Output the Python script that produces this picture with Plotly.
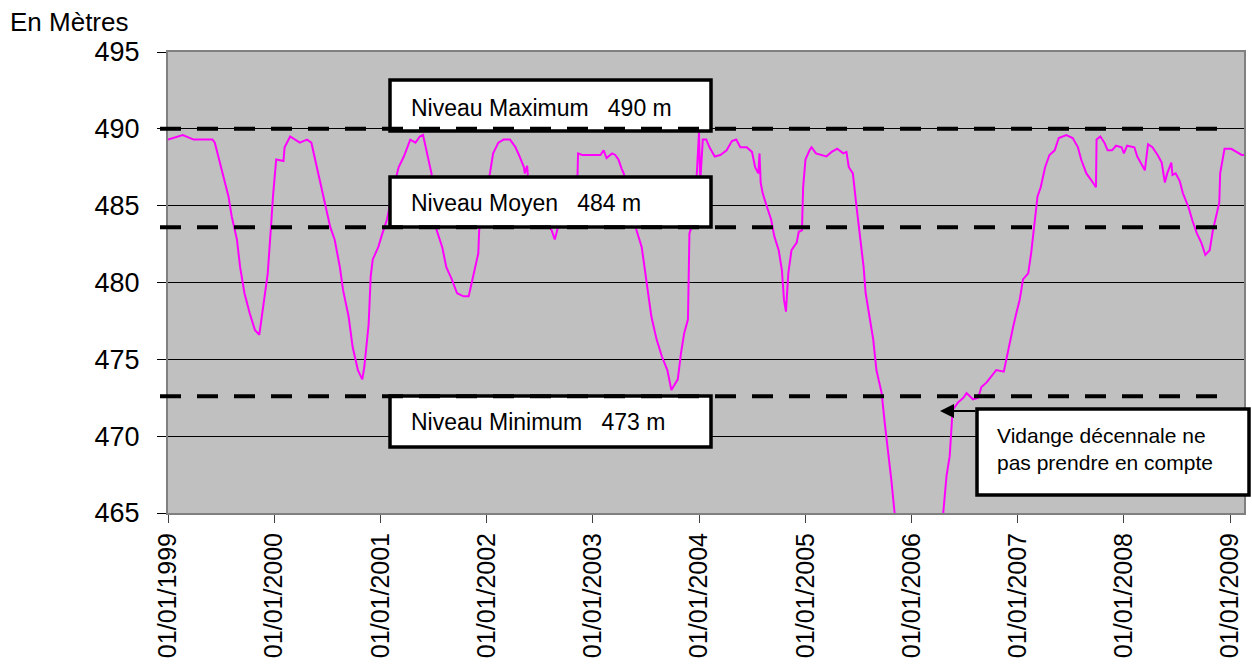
import plotly.graph_objects as go

# ---- data ----
dates = [
    "1999-01-01","1999-02-21","1999-03-30","1999-06-03","1999-06-11","1999-06-29","1999-07-10","1999-07-28",
    "1999-08-08","1999-08-26","1999-09-06","1999-09-21","1999-10-09","1999-10-27","1999-11-11","1999-11-18",
    "1999-11-29","1999-12-10","1999-12-21","1999-12-28",
    "2000-01-08","2000-02-02","2000-02-06","2000-02-25","2000-03-29","2000-04-23","2000-05-08","2000-05-19",
    "2000-06-06","2000-06-24","2000-07-12","2000-07-27","2000-08-14","2000-08-25","2000-09-13","2000-09-27",
    "2000-10-15","2000-10-30","2000-11-06","2000-11-21","2000-11-28","2000-12-05","2000-12-24",
    "2001-01-04","2001-01-23","2001-02-10","2001-03-04","2001-03-22","2001-04-13","2001-05-01","2001-05-16",
    "2001-05-27","2001-06-07","2001-06-25","2001-07-13","2001-08-01","2001-08-15","2001-09-03","2001-09-21",
    "2001-10-13","2001-10-31","2001-11-11","2001-11-22","2001-12-03","2001-12-06","2001-12-25",
    "2002-01-12","2002-01-23","2002-02-10","2002-02-28","2002-03-22","2002-04-10","2002-04-24","2002-05-09",
    "2002-05-12","2002-05-20","2002-05-23","2002-07-02","2002-08-12","2002-08-23","2002-08-30","2002-09-21",
    "2002-10-20","2002-11-09","2002-11-11","2002-11-25",
    "2003-01-27","2003-02-07","2003-02-17","2003-03-08","2003-03-19","2003-03-30","2003-04-10","2003-04-17",
    "2003-05-09","2003-05-31","2003-06-18","2003-06-29","2003-07-10","2003-07-21","2003-08-08","2003-08-26",
    "2003-09-14","2003-09-28","2003-10-20","2003-10-31","2003-11-11","2003-11-24","2003-11-26","2003-11-29",
    "2003-12-06","2003-12-20",
    "2004-01-01","2004-01-05","2004-01-14","2004-01-26","2004-02-06","2004-02-24","2004-03-14","2004-04-05",
    "2004-04-23","2004-05-08","2004-05-22","2004-06-13","2004-07-01","2004-07-12","2004-07-23","2004-07-27",
    "2004-07-31","2004-08-07","2004-08-22","2004-09-05","2004-09-16","2004-10-01","2004-10-12","2004-10-19",
    "2004-10-26","2004-11-03","2004-11-14","2004-12-02","2004-12-09","2004-12-20","2004-12-24",
    "2005-01-01","2005-01-15","2005-01-22","2005-02-06","2005-03-14","2005-04-01","2005-04-20","2005-05-11",
    "2005-05-22","2005-05-30","2005-06-13","2005-06-24","2005-07-09","2005-07-20","2005-07-27","2005-08-11",
    "2005-08-22","2005-09-02","2005-09-20","2005-10-01","2005-10-12","2005-10-23","2005-11-03","2005-11-25",
    "2006-01-08","2006-02-24","2006-04-01","2006-04-20","2006-05-01","2006-05-12","2006-05-19","2006-05-22",
    "2006-06-10","2006-06-28","2006-07-09","2006-07-31","2006-08-18","2006-08-29","2006-09-16","2006-10-01",
    "2006-10-19","2006-11-14","2006-11-25","2006-12-05","2006-12-16","2006-12-27",
    "2007-01-08","2007-01-19","2007-02-06","2007-02-16","2007-02-27","2007-03-10","2007-03-21","2007-04-05",
    "2007-04-20","2007-05-08","2007-05-22","2007-06-17","2007-07-09","2007-07-27","2007-08-07","2007-08-25",
    "2007-09-13","2007-09-27","2007-09-29","2007-10-12","2007-10-26","2007-11-06","2007-11-21","2007-12-05",
    "2007-12-24",
    "2008-01-01","2008-01-12","2008-02-06","2008-02-16","2008-03-06","2008-03-13","2008-03-24","2008-04-08",
    "2008-04-26","2008-05-10","2008-05-21","2008-05-29","2008-06-12","2008-06-16","2008-06-27","2008-07-11",
    "2008-07-22","2008-08-10","2008-08-24","2008-09-08","2008-09-23","2008-10-07","2008-10-22","2008-11-02",
    "2008-11-13","2008-11-24","2008-11-27","2008-12-12",
    "2009-01-04","2009-01-22","2009-02-09","2009-02-17",
]
levels = [
    489.3,489.6,489.3,489.3,489.1,487.8,486.9,485.6,
    484.3,482.8,481.0,479.3,478.0,476.9,476.6,477.6,
    478.9,480.6,483.6,485.6,
    488.0,487.9,488.8,489.5,489.1,489.3,489.1,488.2,
    486.7,485.2,483.6,482.8,481.0,479.5,477.8,475.8,
    474.3,473.7,474.5,477.3,480.4,481.5,482.3,
    483.0,484.1,485.8,487.5,488.2,489.3,489.1,489.5,
    489.6,488.6,487.1,483.4,482.3,481.0,480.2,479.3,
    479.1,479.1,480.0,480.8,481.9,483.4,485.5,
    487.1,488.4,489.1,489.3,489.3,488.8,488.2,487.5,
    487.1,487.6,486.8,485.0,483.4,482.8,483.3,485.0,
    486.0,486.8,488.4,488.3,
    488.3,488.6,488.1,488.4,488.3,488.0,487.4,487.1,
    485.3,483.4,482.3,480.6,479.3,477.8,476.3,475.2,
    474.3,473.0,473.7,475.4,476.7,477.6,480.6,483.2,
    483.6,485.5,
    489.8,486.5,489.3,489.3,488.8,488.2,488.3,488.6,
    489.2,489.3,488.8,488.8,488.5,487.5,487.1,488.4,
    486.5,485.8,484.9,484.1,483.0,482.1,480.8,478.9,
    478.1,480.6,482.1,482.6,483.3,483.4,486.2,
    488.0,488.6,488.8,488.4,488.2,488.5,488.7,488.4,
    488.5,487.5,487.1,485.2,482.8,481.0,479.3,477.6,
    476.3,474.3,472.8,470.8,469.1,467.2,465.1,462.0,
    459.0,458.0,461.0,465.1,467.4,468.7,470.6,471.7,
    472.2,472.5,472.8,472.4,472.5,473.2,473.5,473.9,
    474.3,474.2,475.2,476.3,477.1,478.0,
    478.9,480.2,480.6,481.9,483.6,485.6,486.2,487.5,
    488.3,488.6,489.4,489.6,489.4,488.8,488.0,487.1,
    486.6,486.2,489.3,489.5,489.1,488.6,488.6,488.9,
    488.8,
    488.4,488.9,488.8,488.2,487.5,487.3,489.0,488.8,
    488.3,487.8,486.5,487.1,487.8,487.0,487.1,486.6,
    485.8,484.9,484.0,483.2,482.6,481.8,482.1,483.4,
    484.3,485.2,487.1,488.7,
    488.7,488.5,488.3,488.3,
]

tick_dates = ["1999-01-01","2000-01-01","2001-01-01","2002-01-01","2003-01-01","2004-01-01",
              "2005-01-01","2006-01-01","2007-01-01","2008-01-01","2009-01-01"]
tick_labels = ["01/01/1999","01/01/2000","01/01/2001","01/01/2002","01/01/2003","01/01/2004",
               "01/01/2005","01/01/2006","01/01/2007","01/01/2008","01/01/2009"]

ref_levels = [490.0, 483.6, 472.6]
ref_texts = ["Niveau Maximum   490 m", "Niveau Moyen   484 m", "Niveau Minimum   473 m"]
note_text = "Vidange décennale ne<br>pas prendre en compte"

FONT = "Arial, Liberation Sans, sans-serif"

fig = go.Figure()
fig.add_trace(go.Scatter(x=dates, y=levels, mode="lines",
                         line=dict(color="#FF00FF", width=2), showlegend=False,
                         hoverinfo="x+y"))

FIG_W, FIG_H = 1252, 664
L, R, T, B = 168, 1244, 52, 513
W, H = R - L, B - T
def px(x): return (x - L) / W
def py(y): return (B - y) / H

shapes = []
boxes = [(390, 80, 711, 131), (390, 177, 711, 227), (390, 396, 711, 447), (977, 409, 1249, 495)]
for (x0, y0, x1, y1) in boxes:
    shapes.append(dict(type="rect", xref="paper", yref="paper",
                       x0=px(x0), x1=px(x1), y0=py(y1), y1=py(y0),
                       line=dict(color="black", width=3.5), fillcolor="white", layer="above"))
for lv in ref_levels:
    shapes.append(dict(type="line", xref="paper", yref="y", x0=px(160), x1=px(1230), y0=lv, y1=lv,
                       line=dict(color="black", width=4, dash="21px,16px"), layer="above"))

annotations = []
text_y = [108, 203, 422]
for t, yy in zip(ref_texts, text_y):
    annotations.append(dict(xref="paper", yref="paper", x=px(409), y=py(yy), xanchor="left",
                            yanchor="middle", text=t, showarrow=False,
                            font=dict(family=FONT, size=23, color="black")))
annotations.append(dict(xref="paper", yref="paper", x=px(995), y=py(449), xanchor="left",
                        yanchor="middle", text=note_text, showarrow=False, align="left",
                        font=dict(family=FONT, size=21, color="black")))
annotations.append(dict(xref="paper", yref="paper", x=px(940), y=py(411), ax=37, ay=0,
                        text="", showarrow=True, arrowhead=2, arrowsize=1.4, arrowwidth=2,
                        arrowcolor="black"))
annotations.append(dict(xref="paper", yref="paper", x=px(8), y=py(22), xanchor="left",
                        yanchor="middle", text="En Mètres", showarrow=False,
                        font=dict(family=FONT, size=26, color="black")))

fig.update_layout(
    width=FIG_W, height=FIG_H,
    margin=dict(l=L, r=FIG_W - R, t=T, b=FIG_H - B, autoexpand=False),
    paper_bgcolor="white", plot_bgcolor="#C0C0C0",
    font=dict(family=FONT, color="black"),
    shapes=shapes, annotations=annotations, showlegend=False,
    xaxis=dict(type="date", range=["1999-01-01", "2009-02-17"],
               tickvals=tick_dates, ticktext=tick_labels, tickangle=-90,
               tickfont=dict(family=FONT, size=25, color="black"),
               ticks="outside", ticklen=8, tickcolor="#404040", tickwidth=1,
               showgrid=False, zeroline=False, automargin=False,
               showline=True, linecolor="#808080", linewidth=2, mirror=True,
               ticklabelstandoff=0),
    yaxis=dict(range=[465, 495], dtick=5, tick0=465,
               tickfont=dict(family=FONT, size=27, color="black"),
               ticks="outside", ticklen=9, tickcolor="black", tickwidth=1,
               showgrid=True, gridcolor="black", gridwidth=1, zeroline=False, automargin=False,
               showline=True, linecolor="#808080", linewidth=2, mirror=True,
               ticklabelstandoff=12),
)

fig.write_html("out.html", config={"displayModeBar": False},
               post_script="document.body.style.margin='0px';document.body.style.overflow='hidden';")
